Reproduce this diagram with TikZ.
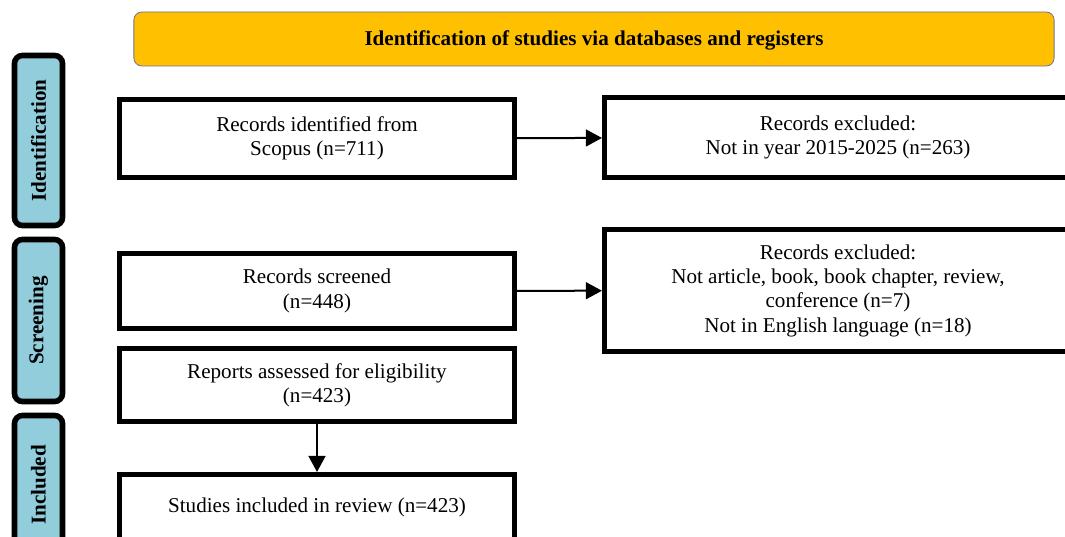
\documentclass[tikz,border=0pt]{standalone}
\usepackage{fontspec}
\setmainfont{Liberation Serif}
\usetikzlibrary{arrows.meta}
\definecolor{bannergold}{RGB}{255,192,0}
\definecolor{bannerline}{RGB}{112,112,150}
\definecolor{tabblue}{RGB}{146,205,220}

\begin{document}
\begin{tikzpicture}[x=0.025cm,y=-0.025cm,
  ->,>={Triangle[length=0.4cm,width=0.42cm]},
  box/.style={rectangle, draw, line width=0.125cm, inner sep=0pt},
  tab/.style={rectangle, draw, rounded corners=0.2cm, fill=tabblue,
    line width=0.14cm, minimum width=1.2cm, inner sep=0pt},
  lbl/.style={align=center, font=\fontsize{15}{17.3}\selectfont}]

  \useasboundingbox (0,0) rectangle (1065,537);

  % banner
  \node[rectangle,
        draw = bannerline,
        line width = 0.02cm,
        rounded corners = 0.2cm,
        fill = bannergold,
        minimum width = 23cm,
        minimum height = 1.35cm
        ] (banner) at (594,39) {};
  \node[lbl, font=\fontsize{15}{17.3}\selectfont\bfseries] (banner-t) at ([yshift=-0.04cm]banner.center)
    {Identification of studies via databases and registers};

  % phase tabs
  \node[tab,
        minimum height = 4.25cm
        ] (ident) at (38.5,140.5) {};
  \node[lbl, font=\fontsize{15}{17.3}\selectfont\bfseries, rotate=90] (ident-t) at (ident.center) {Identification};

  \node[tab,
        minimum height = 4.05cm
        ] (screen) at (38.5,320.5) {};
  \node[lbl, font=\fontsize{15}{17.3}\selectfont\bfseries, rotate=90] (screen-t) at (screen.center) {Screening};

  \node[tab,
        minimum height = 3.475cm
        ] (incl) at (38.5,485) {};
  \node[lbl, font=\fontsize{15}{17.3}\selectfont\bfseries, rotate=90] (incl-t) at (incl.center) {Included};

  % left column
  \node[box,
        minimum width = 9.875cm,
        minimum height = 1.95cm
        ] (recid) at (317,138.5) {};
  \node[lbl] (recid-t) at (recid.center) {Records identified from\\Scopus (n=711)};

  \node[box,
        minimum width = 9.875cm,
        minimum height = 1.875cm
        ] (recsc) at (317,291) {};
  \node[lbl] (recsc-t) at (recsc.center) {Records screened\\(n=448)};

  \node[box,
        minimum width = 9.875cm,
        minimum height = 1.825cm
        ] (rep) at (317,385) {};
  \node[lbl] (rep-t) at (rep.center) {Reports assessed for eligibility\\(n=423)};

  \node[box,
        minimum width = 9.875cm,
        minimum height = 1.625cm
        ] (stud) at (317,507) {};
  \node[lbl] (stud-t) at (stud.center) {Studies included in review (n=423)};

  % right column
  \node[box,
        minimum width = 11.675cm,
        minimum height = 2cm
        ] (recex1) at (838,137.5) {};
  \node[lbl] (recex1-t) at (recex1.center) {Records excluded:\\Not in year 2015-2025 (n=263)};

  \node[box,
        minimum width = 11.675cm,
        minimum height = 3.05cm
        ] (recex2) at (838,290.5) {};
  \node[lbl] (recex2-t) at (recex2.center)
    {Records excluded:\\Not article, book, book chapter, review,\\conference (n=7)\\Not in English language (n=18)};

  \path[line width=0.05cm]
  (recid) edge [] (recex1)
  (recsc) edge [] (recex2)
  (rep) edge [] (stud) ;

\end{tikzpicture}
\end{document}
